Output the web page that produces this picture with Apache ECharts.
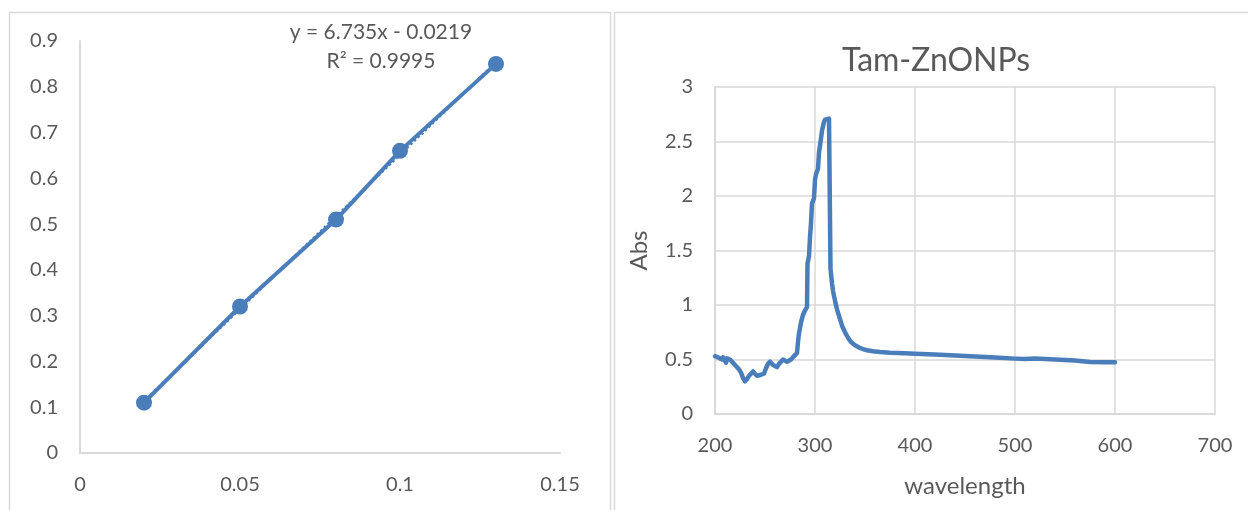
<!DOCTYPE html>
<html>
<head>
<meta charset="utf-8">
<title>Calibration curve and Tam-ZnONPs spectrum</title>
<script src="https://cdn.jsdelivr.net/npm/echarts@6/dist/echarts.min.js"></script>
<style>
  html, body { margin: 0; padding: 0; background: #ffffff; }
  #chart { width: 1248px; height: 510px; }
</style>
</head>
<body>
<div id="chart"></div>
<script>
// Calibration standards (concentration vs absorbance)
const calConc = [0.02, 0.05, 0.08, 0.10, 0.13];
const calAbs = [0.11, 0.32, 0.51, 0.66, 0.85];

// Linear fit of the calibration standards
const fitSlope = 6.735;
const fitIntercept = -0.0219;
const fitR2 = 0.9995;

// UV-Vis absorption spectrum of Tam-ZnONPs
const wavelength = [
  200, 203, 205, 207, 208, 210, 211, 212, 213, 215, 217, 218, 220, 222, 224, 226, 228, 230,
  232, 234, 236, 238, 240, 242, 244, 246, 249, 251, 253, 255, 256, 258, 260, 262, 264, 266,
  268, 270, 272, 274, 276, 278, 280, 282, 283, 284, 286, 288, 290, 292, 292.5, 294, 295, 296,
  297, 299, 300, 301, 303, 304, 305, 307, 308, 309, 310, 312, 314, 315, 315.5, 317, 318, 320,
  322, 325, 327, 330, 333, 336, 340, 344, 348, 352, 358, 365, 375, 390, 400, 420, 440, 460,
  480, 500, 510, 520, 530, 545, 560, 575, 590, 600
];
const absorbance = [
  0.53, 0.52, 0.515, 0.50, 0.52, 0.49, 0.47, 0.51, 0.515, 0.50, 0.495, 0.47, 0.45, 0.44, 0.41, 0.38, 0.33, 0.30,
  0.32, 0.35, 0.37, 0.39, 0.37, 0.35, 0.36, 0.36, 0.37, 0.42, 0.46, 0.48, 0.48, 0.45, 0.44, 0.43, 0.46, 0.48,
  0.50, 0.51, 0.48, 0.47, 0.50, 0.52, 0.54, 0.56, 0.66, 0.74, 0.84, 0.91, 0.95, 0.98, 1.38, 1.45, 1.62, 1.75,
  1.93, 1.98, 2.15, 2.20, 2.25, 2.40, 2.46, 2.60, 2.64, 2.68, 2.70, 2.71, 2.71, 2.70, 1.33, 1.20, 1.13, 1.04,
  0.96, 0.87, 0.81, 0.75, 0.70, 0.66, 0.63, 0.61, 0.595, 0.585, 0.575, 0.568, 0.562, 0.557, 0.553, 0.545, 0.537, 0.527,
  0.518, 0.508, 0.505, 0.51, 0.505, 0.497, 0.49, 0.478, 0.475, 0.475
];

// Axis ticks
const calXTicks = { min: 0, max: 0.15, step: 0.05 };
const calYTicks = { min: 0, max: 0.9, step: 0.1 };
const specXTicks = { min: 200, max: 700, step: 100 };
const specYTicks = { min: 0, max: 3, step: 0.5 };

const spectrumTitle = 'Tam-ZnONPs';
const specXName = 'wavelength';
const specYName = 'Abs';

const BLUE = '#4a7ebb';
const TEXT = '#595959';
const RULE = '#d9d9d9';
const FONT = 'Lato';

const fmt = v => String(Math.round(v * 1000) / 1000);

const fitStart = Math.min(...calConc);
const fitEnd = Math.max(...calConc);
const fitLine = [fitStart, fitEnd].map(x => [x, fitSlope * x + fitIntercept]);
const fitLabel = 'y = ' + fitSlope + 'x - ' + Math.abs(fitIntercept) + '\nR\u00B2 = ' + fitR2;

const chart = echarts.init(document.getElementById('chart'), null, { renderer: 'canvas' });

const labelStyle = { color: TEXT, fontFamily: FONT, fontSize: 20 };

chart.setOption({
  animation: false,
  backgroundColor: '#ffffff',
  textStyle: { fontFamily: FONT, color: TEXT },
  title: {
    text: spectrumTitle,
    left: 931,
    top: 40,
    textAlign: 'center',
    textStyle: { color: TEXT, fontFamily: FONT, fontSize: 32, fontWeight: 'normal' }
  },
  graphic: [
    // chart area outlines
    { type: 'rect', silent: true, shape: { x: 9.5, y: 12.5, width: 601, height: 520 },
      style: { fill: null, stroke: RULE, lineWidth: 1.5 } },
    { type: 'rect', silent: true, shape: { x: 614.5, y: 12.5, width: 700, height: 520 },
      style: { fill: null, stroke: RULE, lineWidth: 1.5 } },
    // fit equation
    { type: 'text', x: 381, y: 18, silent: true,
      style: { text: fitLabel, fill: TEXT, font: '21px Lato', textAlign: 'center', textVerticalAlign: 'top', lineHeight: 29 } }
  ],
  grid: [
    { left: 80, top: 41, width: 480, height: 412 },
    { left: 715, top: 87, width: 500, height: 327 }
  ],
  xAxis: [
    {
      gridIndex: 0, type: 'value',
      min: calXTicks.min, max: calXTicks.max, interval: calXTicks.step,
      axisLine: { show: true, lineStyle: { color: RULE, width: 2 } },
      axisTick: { show: false },
      splitLine: { show: false },
      axisLabel: Object.assign({ margin: 22, formatter: fmt }, labelStyle)
    },
    {
      gridIndex: 1, type: 'value',
      min: specXTicks.min, max: specXTicks.max, interval: specXTicks.step,
      name: specXName, nameLocation: 'middle', nameGap: 60,
      nameTextStyle: { color: TEXT, fontFamily: FONT, fontSize: 24 },
      axisLine: { show: true, lineStyle: { color: RULE, width: 2 } },
      axisTick: { show: false },
      splitLine: { show: true, lineStyle: { color: RULE, width: 1.5 } },
      axisLabel: Object.assign({ margin: 22, formatter: fmt }, labelStyle)
    }
  ],
  yAxis: [
    {
      gridIndex: 0, type: 'value',
      min: calYTicks.min, max: calYTicks.max, interval: calYTicks.step,
      axisLine: { show: true, lineStyle: { color: RULE, width: 2 } },
      axisTick: { show: false },
      splitLine: { show: false },
      axisLabel: Object.assign({ margin: 22, formatter: fmt }, labelStyle)
    },
    {
      gridIndex: 1, type: 'value',
      min: specYTicks.min, max: specYTicks.max, interval: specYTicks.step,
      name: specYName, nameLocation: 'middle', nameGap: 64, nameRotate: 90,
      nameTextStyle: { color: TEXT, fontFamily: FONT, fontSize: 24 },
      axisLine: { show: true, lineStyle: { color: RULE, width: 2 } },
      axisTick: { show: false },
      splitLine: { show: true, lineStyle: { color: RULE, width: 1.5 } },
      axisLabel: Object.assign({ margin: 22, formatter: fmt }, labelStyle)
    }
  ],
  series: [
    {
      name: 'fit', type: 'line', xAxisIndex: 0, yAxisIndex: 0,
      data: fitLine, symbol: 'none', silent: true, z: 1,
      lineStyle: { color: BLUE, width: 2.5, type: 'dotted' }
    },
    {
      name: 'standards', type: 'line', xAxisIndex: 0, yAxisIndex: 0,
      data: calConc.map((c, i) => [c, calAbs[i]]),
      symbol: 'circle', symbolSize: 16, z: 2,
      itemStyle: { color: BLUE },
      lineStyle: { color: BLUE, width: 4 }
    },
    {
      name: spectrumTitle, type: 'line', xAxisIndex: 1, yAxisIndex: 1,
      data: wavelength.map((w, i) => [w, absorbance[i]]),
      symbol: 'none', z: 2,
      lineStyle: { color: BLUE, width: 4.5, join: 'round', cap: 'round' }
    }
  ]
});
</script>
</body>
</html>
